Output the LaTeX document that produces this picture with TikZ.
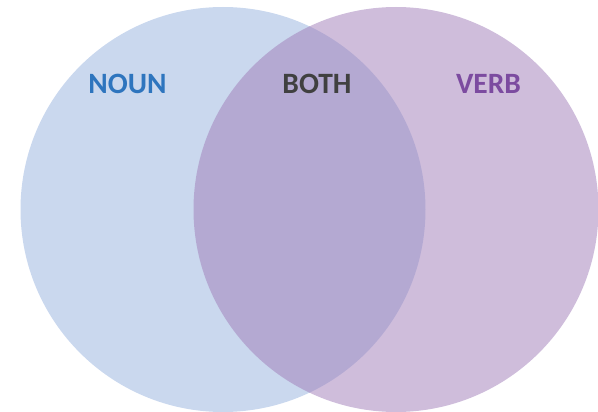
\documentclass[tikz,border=0pt]{standalone}
\usepackage{fontspec}
\setmainfont{Carlito}
\definecolor{nounfill}{RGB}{202,216,238}
\definecolor{verbfill}{RGB}{159,124,184}
\definecolor{nountext}{RGB}{46,117,190}
\definecolor{bothtext}{RGB}{64,64,64}
\definecolor{verbtext}{RGB}{124,75,160}
\begin{document}
\begin{tikzpicture}[x=1pt,y=-1pt,
  lbl/.style={font=\fontsize{29.5}{30}\selectfont\bfseries, inner sep=0pt, anchor=center}]
\useasboundingbox (0,0) rectangle (598,412);
\begin{scope}
\clip (0,0) rectangle (598,412);
\fill[nounfill] (223,209.5) circle[radius=202.5];
\fill[verbfill, fill opacity=0.5] (396,209.5) circle[radius=202.5];
\end{scope}
\node[lbl, text=nountext] (noun) at (127.5,83.5) {NOUN};
\node[lbl, text=bothtext] (both) at (317,83.5) {BOTH};
\node[lbl, text=verbtext] (verb) at (488.5,83.5) {VERB};
\end{tikzpicture}
\end{document}
